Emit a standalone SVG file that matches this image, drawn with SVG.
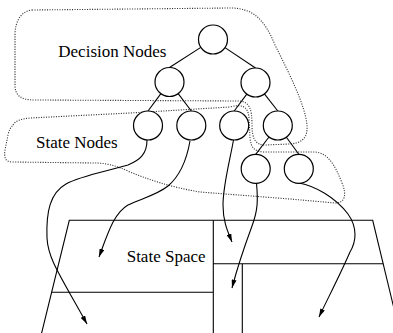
<svg xmlns="http://www.w3.org/2000/svg" width="393" height="333" viewBox="0 0 393 333">
<style>
.n{fill:#fff;stroke:#000;stroke-width:1.2}
.e{fill:none;stroke:#000;stroke-width:1.1}
.a{fill:none;stroke:#000;stroke-width:1.1;marker-end:url(#ah)}
.d{fill:none;stroke:#333;stroke-width:1.1;stroke-dasharray:1.1 1.4}
.b{fill:none;stroke:#000;stroke-width:1.1}
.t{font-family:"Liberation Serif","Times New Roman",serif;font-size:17px;fill:#000}
</style>
<defs>
<marker id="ah" viewBox="0 0 10 6" refX="10" refY="3" markerWidth="8.5" markerHeight="5" markerUnits="userSpaceOnUse" orient="auto">
<path d="M0,0 L10,3 L0,6 Z" fill="#000"/>
</marker>
</defs>
<g id="regions">
<path class="d" d="M32,10 L230,8 C252,8 264,18 275,45 C290,75 305,105 307,125 C308,140 300,143 290,144 L265,145 C255,145 252,138 252,125 C252,110 250,101 238,101 L35,100 C20,100 15,95 15,85 L15,35 C15,20 22,11 32,10 Z"/>
<path class="d" d="M13,125 C16,120 22,119 30,118 L130,113 L230,107 C242,104 248,106 249,118 L250,138 C251,148 255,152 265,152 L315,152 C328,153 335,165 342,183 C347,195 345,203 335,203 L290,199 L200,192 C170,187 150,180 130,172 C115,165 105,163 95,163 L12,162 C5,162 4,157 5,150 L8,135 C9,130 11,127 13,125 Z"/>
</g>
<g id="state-space">
<path class="b" d="M40.9,336 L69.3,220.3 L372.7,220.3 L393.6,307"/>
<path class="b" d="M51.4,292.3 L213.3,292.3 M213.3,220.3 L213.3,333 M213.3,263.7 L383.2,263.7 M242.3,263.7 L242.3,333"/>
</g>
<g id="connectors">
<path class="e" d="M200.8,47.4 L169.5,67.5"/>
<path class="e" d="M225,47.6 L255.5,68"/>
<path class="e" d="M160.9,93.6 L148,111"/>
<path class="e" d="M178.2,93.6 L191.3,111"/>
<path class="e" d="M246.8,94.1 L234.2,111"/>
<path class="e" d="M264.4,93.9 L277.8,111"/>
<path class="e" d="M269,137 L255.7,154.3"/>
<path class="e" d="M286.4,137.2 L298.8,154.3"/>
<path class="a" d="M147,140 C147,154 140,160 128,165 C108,171 80,176 66,184 C50,193 46,212 47,238 C48,258 58,272 87,324"/>
<path class="a" d="M190,141 C187,158 181,175 168,186 C157,195 140,199 128,205 C114,213 108,233 99,257"/>
<path class="a" d="M233.5,140 C230,160 223,185 223,205 C223,222 228,232 232,242"/>
<path class="a" d="M256.5,183 C258,200 258,210 252,226 C245,245 238,265 232,288"/>
<path class="a" d="M299,183 C315,186 335,197 348,214 C358,228 356,242 350,252 C340,275 328,298 319,317"/>
</g>
<g id="node-root"><circle class="n" cx="213" cy="39.5" r="14.5"/></g>
<g id="node-d1"><circle class="n" cx="169.5" cy="82" r="14.5"/></g>
<g id="node-d2"><circle class="n" cx="255.5" cy="82.5" r="14.5"/></g>
<g id="node-s1"><circle class="n" cx="148" cy="125.5" r="14.5"/></g>
<g id="node-s2"><circle class="n" cx="191.3" cy="125.5" r="14.5"/></g>
<g id="node-s3"><circle class="n" cx="234.2" cy="125.5" r="14.5"/></g>
<g id="node-d3"><circle class="n" cx="277.8" cy="125.5" r="14.5"/></g>
<g id="node-s4"><circle class="n" cx="255.7" cy="168.8" r="14.5"/></g>
<g id="node-s5"><circle class="n" cx="298.8" cy="168.8" r="14.5"/></g>
<g id="labels">
<text class="t" x="58.3" y="57.3">Decision Nodes</text>
<text class="t" x="36" y="148">State Nodes</text>
<text class="t" x="126.7" y="262.3">State Space</text>
</g>
</svg>
